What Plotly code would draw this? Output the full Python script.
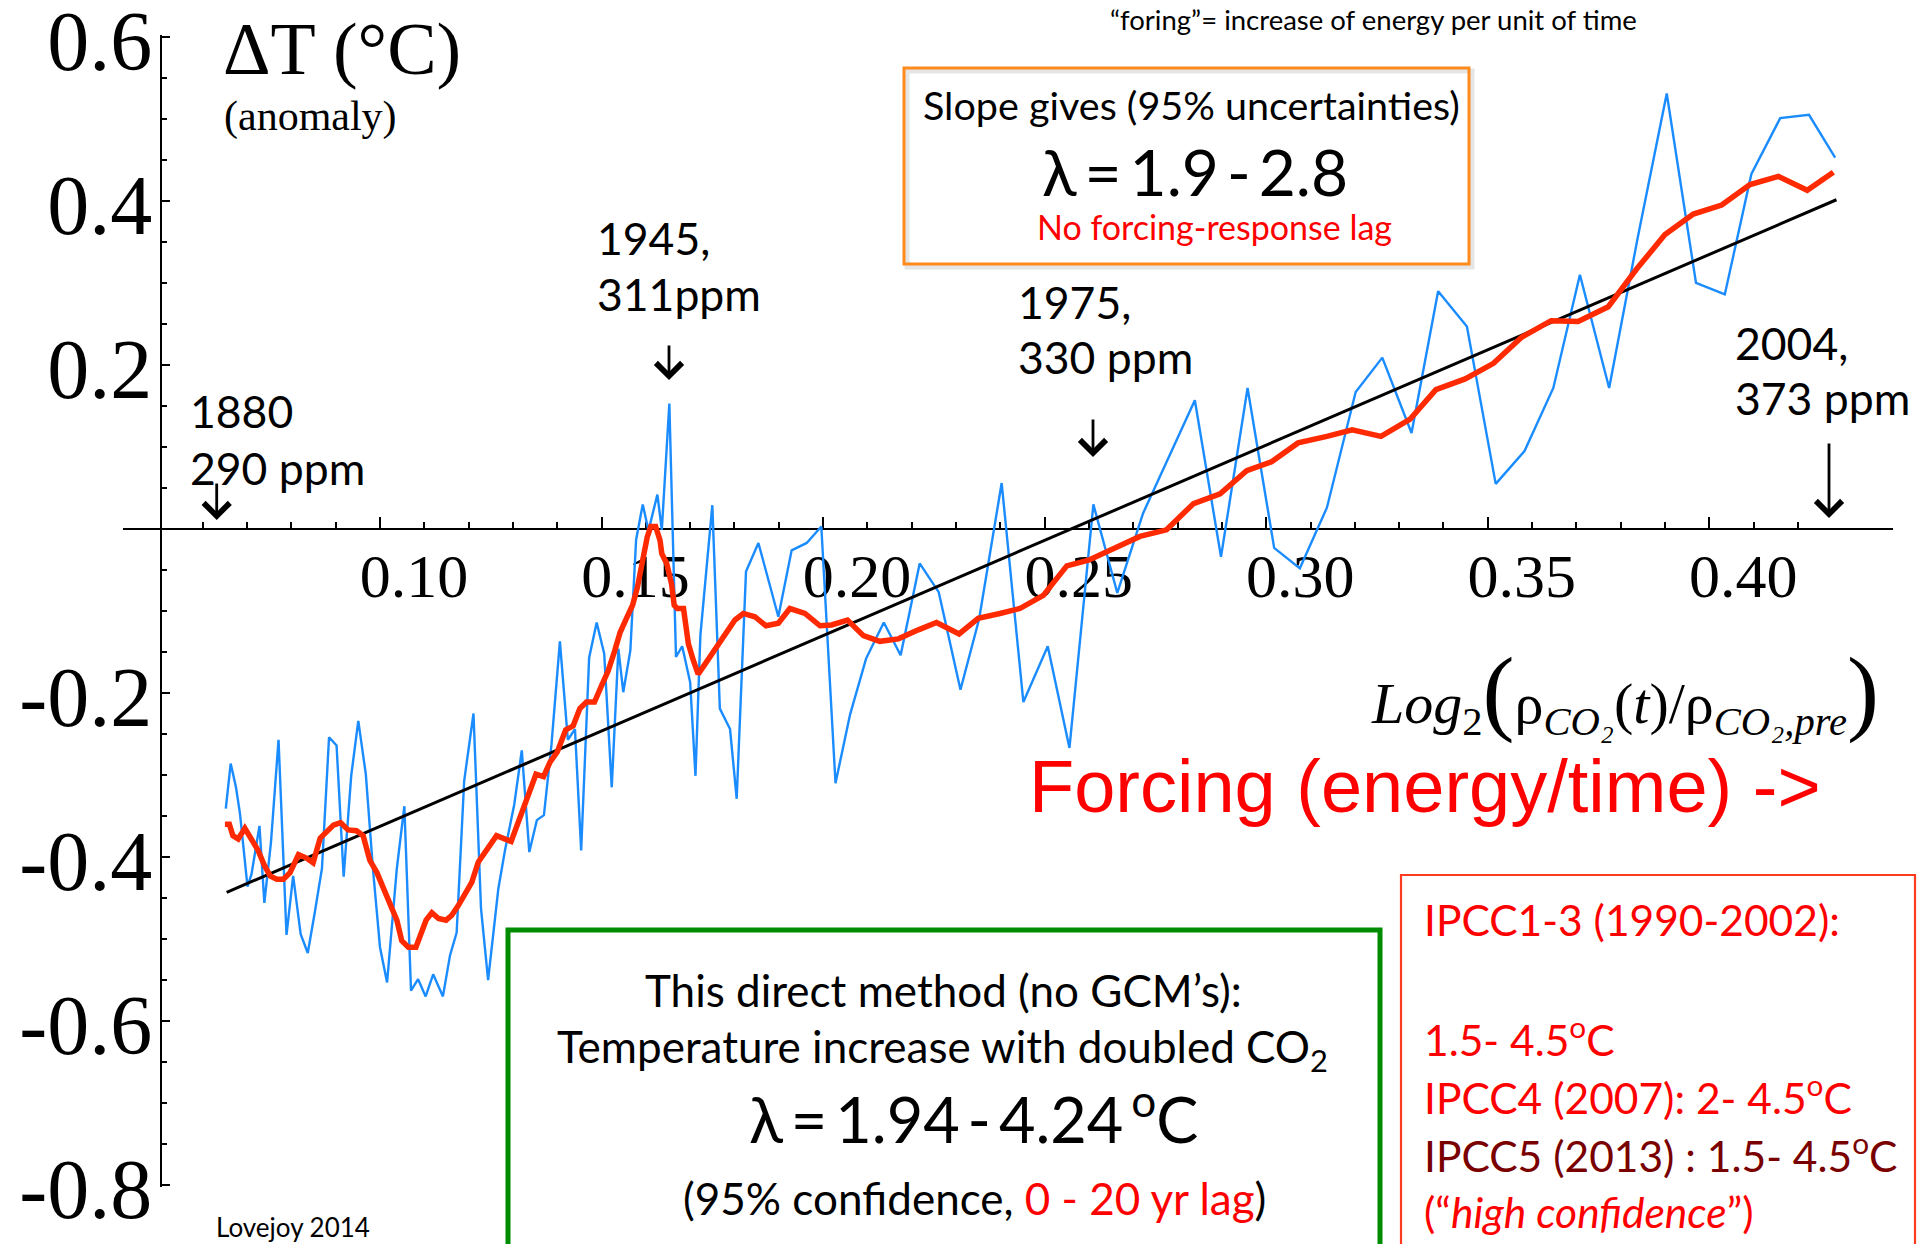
import plotly.graph_objects as go

# ---------------- data ----------------
# x = Log2(rho_CO2(t)/rho_CO2,pre), y = temperature anomaly (deg C)
blue_x = [0.0652, 0.0663, 0.0675, 0.0684, 0.0701, 0.0710, 0.0728, 0.0739, 0.0754, 0.0771,
          0.0789, 0.0804, 0.0821, 0.0837, 0.0853, 0.0869, 0.0885, 0.0902, 0.0918, 0.0935,
          0.0951, 0.0968, 0.0984, 0.1000, 0.1016, 0.1038, 0.1055, 0.1070, 0.1086, 0.1103,
          0.1120, 0.1142, 0.1158, 0.1173, 0.1190, 0.1211, 0.1228, 0.1244, 0.1267, 0.1282,
          0.1303, 0.1320, 0.1337, 0.1354, 0.1370, 0.1387, 0.1406, 0.1424, 0.1440, 0.1454,
          0.1472, 0.1489, 0.1506, 0.1523, 0.1538, 0.1549, 0.1565, 0.1578, 0.1593, 0.1606,
          0.1626, 0.1636, 0.1653, 0.1668, 0.1682, 0.1700, 0.1712, 0.1723, 0.1750, 0.1767,
          0.1790, 0.1805, 0.1826, 0.1854, 0.1899, 0.1929, 0.1963, 0.1996, 0.2028, 0.2061,
          0.2097, 0.2137, 0.2175, 0.2218, 0.2261, 0.2310, 0.2352, 0.2403, 0.2452, 0.2507,
          0.2556, 0.2610, 0.2664, 0.2722, 0.2839, 0.2898, 0.2958, 0.3018, 0.3076, 0.3137,
          0.3202, 0.3262, 0.3328, 0.3388, 0.3453, 0.3518, 0.3583, 0.3648, 0.3708, 0.3774,
          0.3838, 0.3904, 0.3970, 0.4035, 0.4095, 0.4160, 0.4225, 0.4284]
blue_y = [-0.341, -0.286, -0.315, -0.347, -0.436, -0.421, -0.362, -0.456, -0.382, -0.257,
          -0.495, -0.423, -0.494, -0.517, -0.467, -0.414, -0.254, -0.264, -0.424, -0.301,
          -0.234, -0.299, -0.414, -0.510, -0.553, -0.414, -0.338, -0.563, -0.549, -0.570,
          -0.543, -0.570, -0.520, -0.492, -0.307, -0.225, -0.463, -0.550, -0.439, -0.392,
          -0.336, -0.270, -0.394, -0.355, -0.349, -0.263, -0.137, -0.257, -0.244, -0.392,
          -0.157, -0.114, -0.152, -0.315, -0.146, -0.199, -0.148, -0.013, 0.030, -0.002,
          0.042, -0.001, 0.153, -0.156, -0.143, -0.187, -0.301, -0.130, 0.029, -0.219,
          -0.244, -0.329, -0.052, -0.017, -0.107, -0.026, -0.017, 0.003, -0.310, -0.226,
          -0.158, -0.114, -0.154, -0.042, -0.077, -0.196, -0.110, 0.056, -0.211, -0.143,
          -0.267, 0.030, -0.078, 0.019, 0.157, -0.034, 0.172, -0.023, -0.048, 0.026,
          0.167, 0.209, 0.117, 0.290, 0.247, 0.055, 0.095, 0.172, 0.310, 0.172,
          0.354, 0.531, 0.300, 0.286, 0.433, 0.501, 0.505, 0.453]

red_x = [0.0650, 0.0660, 0.0668, 0.0680, 0.0695, 0.0710, 0.0725, 0.0739, 0.0752, 0.0767,
         0.0782, 0.0797, 0.0816, 0.0833, 0.0849, 0.0865, 0.0880, 0.0895, 0.0911, 0.0928,
         0.0947, 0.0962, 0.0977, 0.0993, 0.1007, 0.1023, 0.1038, 0.1049, 0.1064, 0.1081,
         0.1094, 0.1104, 0.1117, 0.1132, 0.1149, 0.1162, 0.1177, 0.1192, 0.1207, 0.1222,
         0.1237, 0.1263, 0.1296, 0.1310, 0.1325, 0.1339, 0.1352, 0.1369, 0.1384, 0.1400,
         0.1406, 0.1419, 0.1436, 0.1451, 0.1466, 0.1484, 0.1500, 0.1515, 0.1530, 0.1542,
         0.1557, 0.1570, 0.1581, 0.1593, 0.1603, 0.1611, 0.1622, 0.1632, 0.1636, 0.1647,
         0.1658, 0.1664, 0.1671, 0.1685, 0.1696, 0.1707, 0.1718, 0.1737, 0.1760, 0.1782,
         0.1801, 0.1820, 0.1846, 0.1871, 0.1899, 0.1925, 0.1959, 0.1993, 0.2019, 0.2055,
         0.2091, 0.2128, 0.2170, 0.2215, 0.2256, 0.2307, 0.2350, 0.2399, 0.2444, 0.2497,
         0.2550, 0.2599, 0.2655, 0.2715, 0.2775, 0.2836, 0.2896, 0.2956, 0.3012, 0.3072,
         0.3137, 0.3194, 0.3259, 0.3325, 0.3383, 0.3449, 0.3513, 0.3577, 0.3643, 0.3704,
         0.3772, 0.3836, 0.3900, 0.3964, 0.4028, 0.4092, 0.4156, 0.4221, 0.4280]
red_y = [-0.360, -0.360, -0.374, -0.378, -0.365, -0.380, -0.392, -0.410, -0.423, -0.427,
         -0.427, -0.419, -0.397, -0.401, -0.407, -0.377, -0.368, -0.361, -0.358, -0.367,
         -0.368, -0.374, -0.404, -0.419, -0.437, -0.457, -0.477, -0.502, -0.510, -0.510,
         -0.490, -0.477, -0.468, -0.475, -0.477, -0.471, -0.459, -0.445, -0.431, -0.406,
         -0.394, -0.374, -0.381, -0.360, -0.336, -0.315, -0.299, -0.302, -0.284, -0.272,
         -0.264, -0.245, -0.240, -0.219, -0.211, -0.211, -0.191, -0.173, -0.148, -0.126,
         -0.108, -0.093, -0.071, -0.038, -0.010, 0.003, 0.003, -0.014, -0.030, -0.042,
         -0.067, -0.093, -0.097, -0.097, -0.140, -0.160, -0.177, -0.162, -0.144, -0.124,
         -0.111, -0.103, -0.107, -0.118, -0.115, -0.097, -0.103, -0.118, -0.117, -0.111,
         -0.130, -0.137, -0.134, -0.123, -0.114, -0.128, -0.109, -0.103, -0.097, -0.081,
         -0.045, -0.038, -0.024, -0.009, -0.001, 0.031, 0.043, 0.071, 0.082, 0.105,
         0.113, 0.121, 0.113, 0.134, 0.170, 0.183, 0.202, 0.234, 0.254, 0.253,
         0.271, 0.317, 0.359, 0.384, 0.395, 0.420, 0.430, 0.413, 0.435]

fit_x = [0.0654, 0.4287]
fit_y = [-0.443, 0.4015]

x_tick_vals = [0.10, 0.15, 0.20, 0.25, 0.30, 0.35, 0.40]
x_tick_text = ["0.10", "0.15", "0.20", "0.25", "0.30", "0.35", "0.40"]
x_minor_vals = [0.06, 0.07, 0.08, 0.09, 0.11, 0.12, 0.13, 0.14, 0.16, 0.17, 0.18, 0.19,
                0.21, 0.22, 0.23, 0.24, 0.26, 0.27, 0.28, 0.29, 0.31, 0.32, 0.33, 0.34,
                0.36, 0.37, 0.38, 0.39, 0.41, 0.42]
y_tick_vals = [-0.8, -0.6, -0.4, -0.2, 0.2, 0.4, 0.6]
y_tick_text = ["-0.8", "-0.6", "-0.4", "-0.2", "0.2", "0.4", "0.6"]
y_minor_vals = [-0.75, -0.7, -0.65, -0.55, -0.5, -0.45, -0.35, -0.3, -0.25, -0.15, -0.1,
                -0.05, 0.05, 0.1, 0.15, 0.25, 0.3, 0.35, 0.45, 0.5, 0.55]

# ---------------- geometry (page pixels; the page body adds an 8 px margin) ----------------
PAGE_W, PAGE_H = 1928, 1244
BODY = 8
FIG_W, FIG_H = PAGE_W - BODY, PAGE_H - BODY
PLOT_L, PLOT_R, PLOT_T, PLOT_B = 123, 1893, 35, 1187      # plot area on the page
X_RANGE = [0.0420, 0.44146]
Y_RANGE = [-0.8024, 0.6024]
PW = PLOT_R - PLOT_L
PH = PLOT_B - PLOT_T
YAXIS_PX = 161


def px(fx, fy):
    """page pixel position -> paper coordinates"""
    return (fx - PLOT_L) / PW, (PLOT_B - fy) / PH


fig = go.Figure()
fig.add_trace(go.Scatter(x=blue_x, y=blue_y, mode="lines",
                         line=dict(color="#1A8CFF", width=2.4), hoverinfo="skip"))
fig.add_trace(go.Scatter(x=fit_x, y=fit_y, mode="lines",
                         line=dict(color="black", width=3), hoverinfo="skip"))
fig.add_trace(go.Scatter(x=red_x, y=red_y, mode="lines",
                         line=dict(color="#FF2A00", width=5.5), hoverinfo="skip"))

SERIF = "Liberation Serif"
SANS = "Lato, Open Sans"


def note(text, fx, fy, size, family=SANS, color="black", xanchor="left",
         yanchor="middle", align="left", weight=None):
    x, y = px(fx, fy)
    f = dict(family=family, size=size, color=color)
    if weight:
        f["weight"] = weight
    fig.add_annotation(text=text, x=x, y=y, xref="paper", yref="paper",
                       showarrow=False, font=f, xanchor=xanchor, yanchor=yanchor,
                       align=align)


def arrow(fx, fy_tail, fy_tip):
    x, y = px(fx, fy_tip)
    fig.add_annotation(x=x, y=y, xref="paper", yref="paper", text="",
                       showarrow=True, ax=0, ay=-(fy_tip - fy_tail),
                       axref="pixel", ayref="pixel", arrowhead=4, arrowsize=1.8,
                       arrowwidth=2.8, arrowcolor="black")


def rect(fx0, fy0, fx1, fy1, color, width):
    x0, y1 = px(fx0, fy0)
    x1, y0 = px(fx1, fy1)
    fig.add_shape(type="rect", xref="paper", yref="paper", x0=x0, y0=y0, x1=x1, y1=y1,
                  line=dict(color=color, width=width), fillcolor="rgba(0,0,0,0)")


# axis titles / labels
note("ΔT (°C)", 221, 49, 74, SERIF)
note("(anomaly)", 222, 116, 42, SERIF)
note("<i>Log</i><sub>2</sub><span style='font-size:96px'>(</span>ρ<sub><i>CO₂</i></sub>"
     "(<i>t</i>)/ρ<sub><i>CO₂,pre</i></sub><span style='font-size:96px'>)</span>",
     1369, 690, 58, SERIF)
note("Forcing (energy/time) ->", 1027, 786, 74, "Liberation Sans", color="#FF0000")

# year markers
note("1880", 188, 411, 44.5)
note("290 ppm", 188, 467, 44.5)
note("1945,", 595, 237, 44.5)
note("311ppm", 595, 293, 44.5)
note("1975,", 1016, 301, 44.5)
note("330 ppm", 1016, 357, 44.5)
note("2004,", 1733, 342, 44.5)
note("373 ppm", 1733, 398, 44.5)
arrow(216.7, 482, 520)
arrow(669, 344, 380)
arrow(1093, 418, 457)
arrow(1829, 442, 518)

# top note
note("“foring”= increase of energy per unit of time", 1373, 19, 27.5, xanchor="center")

# orange box
rect(907, 71, 1472, 267, "rgba(0,0,0,0.10)", 5)
rect(904, 68, 1469, 264, "#FF8A1E", 3)
note("Slope gives (95% uncertainties)", 1191.7, 105, 39.5, xanchor="center", align="center")
note("λ\u2009=\u20091.9\u2009-\u20092.8", 1194.5, 171, 64, xanchor="center", align="center")
note("No forcing-response lag", 1214, 227, 34, color="#FF0000", xanchor="center",
     align="center")

# green box
rect(508, 930, 1380, 1270, "#008C00", 5)
note("This direct method (no GCM’s):", 943.5, 990, 44, xanchor="center", align="center")
note("Temperature increase with doubled CO<sub>2</sub>", 942, 1049, 44, xanchor="center",
     align="center")
note("λ\u2009=\u20091.94\u2009-\u20094.24\u2009<sup>o</sup>C", 973.6, 1114, 63,
     xanchor="center", align="center")
note("(95% confidence, <span style='color:#FF0000'>0 - 20 yr lag</span>)", 974.5, 1198, 44,
     xanchor="center", align="center")

# IPCC box
rect(1401, 875, 1915, 1270, "#FF3B1F", 2.2)
note("IPCC1-3 (1990-2002):", 1422, 919, 42.5, color="#FF0000")
note("1.5- 4.5<sup>o</sup>C", 1422, 1037, 42.5, color="#FF0000")
note("IPCC4 (2007): 2- 4.5<sup>o</sup>C", 1422, 1095, 42.5, color="#FF0000")
note("IPCC5 (2013) : 1.5- 4.5<sup>o</sup>C", 1422, 1153, 42.5, color="#7A0000")
note("(“<i>high confidence</i>”)", 1422, 1211, 42.5, color="#FF0000")

note("Lovejoy 2014", 214, 1227, 26)

fig.update_layout(
    width=FIG_W, height=FIG_H,
    margin=dict(l=PLOT_L - BODY, r=PAGE_W - PLOT_R, t=PLOT_T - BODY, b=PAGE_H - PLOT_B,
                pad=0, autoexpand=False),
    paper_bgcolor="white", plot_bgcolor="white",
    showlegend=False,
    xaxis=dict(range=X_RANGE, anchor="free", automargin=False,
               position=(0 - Y_RANGE[0]) / (Y_RANGE[1] - Y_RANGE[0]),
               showline=True, linecolor="black", linewidth=2,
               ticks="inside", ticklen=11, tickwidth=2, tickcolor="black",
               tickmode="array", tickvals=x_tick_vals, ticktext=x_tick_text,
               tickfont=dict(family=SERIF, size=62, color="black"),
               ticklabelshift=34, ticklabelstandoff=-7, ticklabeloverflow="allow",
               minor=dict(tickmode="array", tickvals=x_minor_vals, ticks="inside",
                          ticklen=6, tickwidth=2, tickcolor="black", showgrid=False),
               showgrid=False, zeroline=False, layer="below traces"),
    yaxis=dict(range=Y_RANGE, anchor="free", automargin=False,
               position=(YAXIS_PX - PLOT_L) / PW,
               showline=True, linecolor="black", linewidth=2,
               ticks="inside", ticklen=8, tickwidth=2, tickcolor="black",
               tickmode="array", tickvals=y_tick_vals, ticktext=y_tick_text,
               tickfont=dict(family=SERIF, size=84, color="black"),
               ticklabelshift=4, ticklabelstandoff=-9, ticklabeloverflow="allow",
               minor=dict(tickmode="array", tickvals=y_minor_vals, ticks="inside",
                          ticklen=5, tickwidth=2, tickcolor="black", showgrid=False),
               showgrid=False, zeroline=False, layer="below traces"),
)

fig.write_html("out.html")
